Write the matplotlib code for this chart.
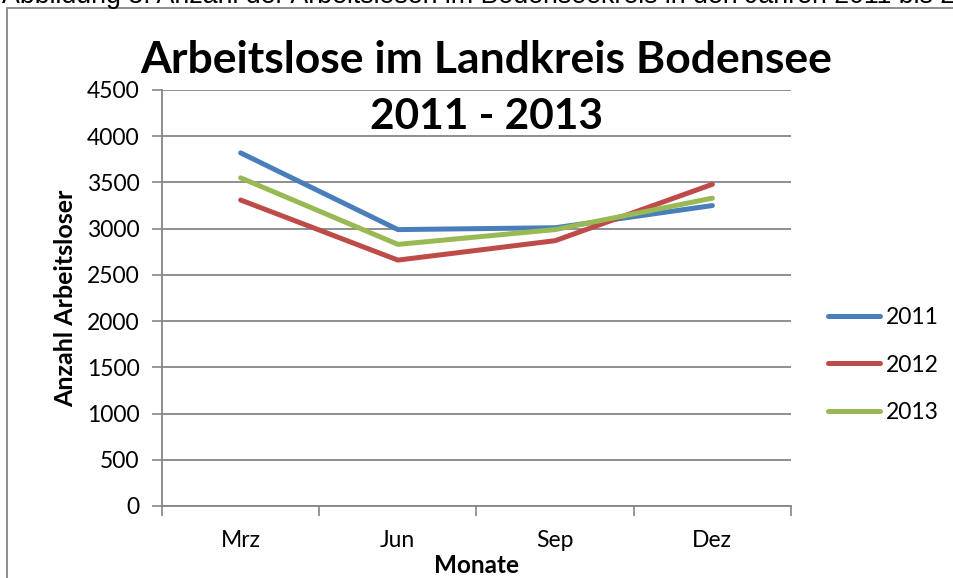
import matplotlib.pyplot as plt
import numpy as np

# Daten
monate = ['Mrz', 'Jun', 'Sep', 'Dez']
jahre = ['2011', '2012', '2013']
werte_2011 = [3820, 2990, 3010, 3250]
werte_2012 = [3310, 2660, 2870, 3480]
werte_2013 = [3550, 2830, 2990, 3330]
y_ticks = [0, 500, 1000, 1500, 2000, 2500, 3000, 3500, 4000, 4500]

farben = ['#4A7EBB', '#BE4B48', '#98B954']
grau = '#868686'
schrift = ['Lato', 'DejaVu Sans']

plt.rcParams['font.family'] = schrift

fig = plt.figure(figsize=(9.54, 5.78), dpi=100)
ax = fig.add_axes([162 / 954, 1 - 506 / 578, (791 - 162) / 954, (506 - 90) / 578])

x = np.arange(len(monate))
for werte, jahr, farbe in zip([werte_2011, werte_2012, werte_2013], jahre, farben):
    ax.plot(x, werte, color=farbe, lw=3.6, label=jahr, solid_capstyle='round',
            solid_joinstyle='round')

# Achsen
ax.set_xlim(-0.5, len(monate) - 0.5)
ax.set_ylim(0, 4500)
ax.set_yticks(y_ticks)
ax.set_xticks(x)
ax.set_xticklabels(monate)
ax.set_xticks(np.arange(-0.5, len(monate)), minor=True)
ax.tick_params(axis='x', which='major', length=0, pad=17, labelsize=16.5)
ax.tick_params(axis='x', which='minor', length=7, width=1.2, color=grau, direction='out')
ax.tick_params(axis='y', length=7, width=1.2, color=grau, pad=9, labelsize=16.5)
ax.grid(axis='y', color=grau, lw=1.3)
ax.set_axisbelow(True)
for s in ['top', 'right']:
    ax.spines[s].set_visible(False)
for s in ['left', 'bottom']:
    ax.spines[s].set_color(grau)
    ax.spines[s].set_linewidth(1.3)

ax.set_ylabel('Anzahl Arbeitsloser', fontsize=18, fontweight='bold', labelpad=7)
ax.set_xlabel('Monate', fontsize=17.5, fontweight='bold', labelpad=2.5)

# Titel
fig.text(486 / 954, 1 - 60 / 578, 'Arbeitslose im Landkreis Bodensee', ha='center', va='center',
         fontsize=32, fontweight='bold')
fig.text(487 / 954, 1 - 117 / 578, '2011 - 2013', ha='center', va='center',
         fontsize=30.5, fontweight='bold')

# Legende
fig.legend(loc='center left', bbox_to_anchor=(828 / 954, 1 - 365 / 578),
           bbox_transform=fig.transFigure, frameon=False, fontsize=16.5,
           handlelength=2.27, handletextpad=0.27, labelspacing=1.16,
           borderpad=0, borderaxespad=0)

# Rahmen und abgeschnittene Bildunterschrift
fig.patches.append(plt.Rectangle((7 / 954, -0.1), 1.2, 1 - 8 / 578 + 0.1, transform=fig.transFigure,
                                 fill=False, edgecolor=grau, lw=1.3))
fig.text(2 / 954, 1 - 3 / 578, 'Abbildung 3: Anzahl der Arbeitslosen im Bodenseekreis in den Jahren 2011 bis 2013',
         ha='left', va='baseline', fontsize=19.3, family=['Liberation Sans', 'DejaVu Sans'])

fig.savefig('out.png', dpi=100)
